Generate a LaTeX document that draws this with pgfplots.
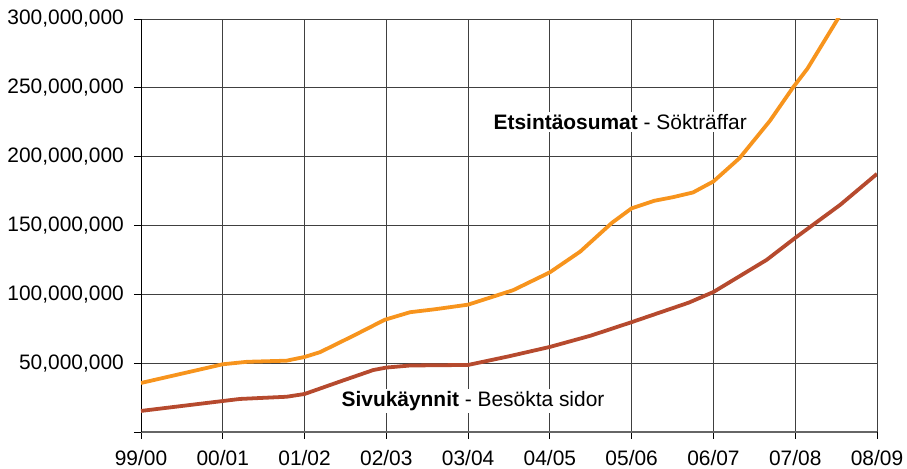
\documentclass[border=0pt]{standalone}
\usepackage{fontspec}
\setmainfont{Liberation Sans}
\usepackage{pgfplots}
\pgfplotsset{compat=1.18}
\definecolor{corange}{HTML}{F7941D}
\definecolor{cbrown}{HTML}{B64A2E}

\begin{document}
\fontsize{21}{25}\selectfont
\begin{tikzpicture}[x=1bp,y=1bp]
\useasboundingbox (-141,-37) rectangle (766,432);
\begin{axis}[
    at={(0,0)}, anchor=south west,
    scale only axis, width=736bp, height=413bp,
    xmin=0, xmax=9, ymin=0, ymax=300,
    xtick={0,...,9},
    xticklabels={99/00,00/01,01/02,02/03,03/04,04/05,05/06,06/07,07/08,08/09},
    ytick={0,50,...,300},
    yticklabels={{},{50,000,000},{100,000,000},{150,000,000},{200,000,000},{250,000,000},{300,000,000}},
    axis lines*=left,
    x axis line style={black!60, line width=1.5pt},
    y axis line style={black, line width=0.9pt},
    tick style={black, line width=0.8pt},
    tick align=outside, major tick length=7bp,
    grid=major, grid style={black!75, line width=0.8pt},
    tick label style={font=\fontsize{21}{25}\selectfont},
    yticklabel style={xshift=-3bp},
    xticklabel style={yshift=-4bp},
]
% Etsintaosumat (millions)
\addplot[corange, line width=3.8pt, line join=round] coordinates {
    (0,35.6) (1,49.2) (1.3,51) (1.78,51.8) (2,54.5) (2.19,58) (2.6,70)
    (2.98,81.5) (3.29,87) (3.6,89.2) (4.0,92.5) (4.55,103) (5.0,116)
    (5.37,131) (5.76,152) (6.0,162.5) (6.28,168) (6.5,170.5) (6.75,174)
    (7.0,182) (7.32,199) (7.69,226) (7.97,250) (8.15,264) (8.52,300) (8.7,318)
};
% Sivukaynnit (millions)
\addplot[cbrown, line width=3.8pt, line join=round] coordinates {
    (0,15.3) (1,22.5) (1.21,24) (1.78,25.6) (2,27.6) (2.45,37) (2.84,45)
    (3.0,46.8) (3.29,48.3) (4.0,48.7) (4.5,55) (5.0,61.8) (5.5,70)
    (6.0,79.8) (6.7,94) (7.0,101.7) (7.65,125) (8.0,141) (8.55,165) (9,187.5)
};
\node[fill=white, inner sep=2bp] at (axis cs:5.86,225.2)
    {\textbf{Etsintäosumat} - Sökträffar};
\node[fill=white, inner sep=2bp] at (axis cs:4.06,22.5)
    {\textbf{Sivukäynnit} - Besökta sidor};
\end{axis}
\end{tikzpicture}
\end{document}
